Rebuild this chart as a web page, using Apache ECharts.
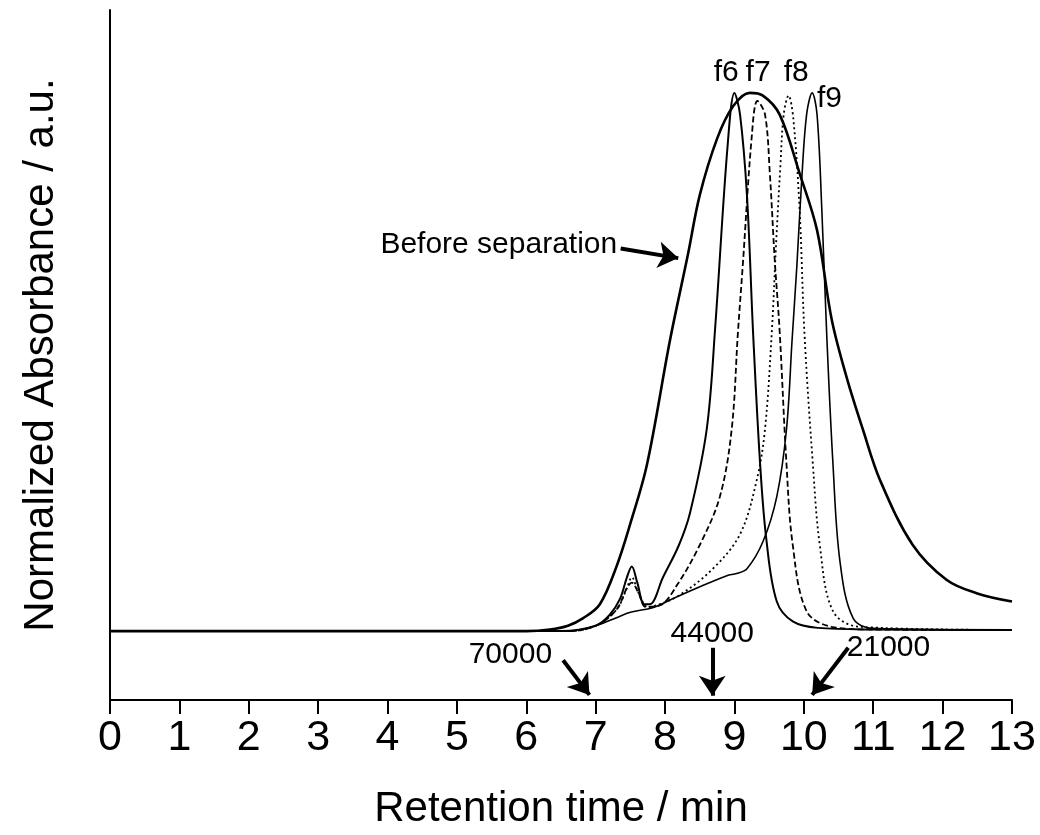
<!DOCTYPE html>
<html>
<head>
<meta charset="utf-8">
<script src="https://cdn.jsdelivr.net/npm/echarts@6/dist/echarts.min.js"></script>
<style>
html,body{margin:0;padding:0;background:#fff;}
#chart{width:1040px;height:835px;}
</style>
</head>
<body>
<div id="chart"></div>
<script>
// ---- data ----
const xTicks = [0,1,2,3,4,5,6,7,8,9,10,11,12,13];

const beforeT = [0, 5.5, 6.0, 6.34, 6.6, 6.82, 7.06, 7.3, 7.5, 7.74, 8.07, 8.33, 8.5, 8.75, 8.98, 9.22, 9.41, 9.65, 9.94, 10.19, 10.4, 10.62, 10.85, 11.1, 11.57, 12.06, 12.5, 13];
const beforeV = [0, 0, 0, 0.003, 0.01, 0.024, 0.05, 0.12, 0.2, 0.31, 0.54, 0.70, 0.81, 0.915, 0.975, 1.0, 0.995, 0.96, 0.85, 0.745, 0.58, 0.47, 0.375, 0.28, 0.16, 0.095, 0.07, 0.055];

const f6T = [0, 6.0, 6.5, 7.0, 7.2, 7.35, 7.45, 7.52, 7.6, 7.7, 7.78, 7.97, 8.2, 8.36, 8.6, 8.72, 8.9, 9.0, 9.08, 9.18, 9.27, 9.37, 9.46, 9.61, 9.84, 10.2, 11, 13];
const f6V = [0, 0, 0, 0.01, 0.03, 0.06, 0.1, 0.12, 0.09, 0.05, 0.05, 0.1, 0.16, 0.22, 0.375, 0.56, 0.9, 1.0, 0.96, 0.81, 0.55, 0.31, 0.17, 0.055, 0.018, 0.006, 0.003, 0.002];

const f7T = [0, 6.0, 6.6, 7.0, 7.3, 7.45, 7.52, 7.62, 7.72, 7.93, 8.17, 8.5, 8.79, 8.96, 9.05, 9.12, 9.25, 9.33, 9.44, 9.51, 9.58, 9.65, 9.75, 9.84, 10.04, 10.4, 11, 13];
const f7V = [0, 0, 0, 0.01, 0.04, 0.08, 0.09, 0.07, 0.045, 0.048, 0.085, 0.16, 0.25, 0.375, 0.555, 0.68, 0.92, 0.985, 0.96, 0.85, 0.69, 0.56, 0.31, 0.16, 0.037, 0.008, 0.003, 0.002];

const f8T = [0, 6.0, 6.6, 7.0, 7.3, 7.45, 7.52, 7.62, 7.75, 7.88, 8.21, 8.69, 9.08, 9.32, 9.44, 9.54, 9.6, 9.66, 9.71, 9.78, 9.85, 9.94, 10.01, 10.13, 10.23, 10.42, 10.8, 13];
const f8V = [0, 0, 0, 0.01, 0.04, 0.08, 0.1, 0.07, 0.045, 0.048, 0.067, 0.116, 0.18, 0.28, 0.375, 0.56, 0.72, 0.86, 0.96, 0.995, 0.95, 0.78, 0.55, 0.31, 0.16, 0.037, 0.008, 0.002];

const f9T = [0, 6.0, 6.6, 7.0, 7.3, 7.5, 7.78, 7.88, 8.11, 8.46, 8.89, 9.03, 9.18, 9.41, 9.61, 9.75, 9.83, 9.9, 9.97, 10.04, 10.12, 10.19, 10.26, 10.33, 10.42, 10.52, 10.71, 11.0, 13];
const f9V = [0, 0, 0, 0.01, 0.025, 0.035, 0.042, 0.046, 0.06, 0.08, 0.103, 0.107, 0.116, 0.166, 0.25, 0.375, 0.54, 0.68, 0.84, 0.96, 1.0, 0.96, 0.78, 0.55, 0.31, 0.13, 0.024, 0.005, 0.002];

// annotations: [text, t, value]
const peakLabels = [['f6', 8.88, 1.037], ['f7', 9.34, 1.037], ['f8', 9.89, 1.037], ['f9', 10.37, 0.99]];
const mwLabels = [['70000', 5.77, -0.043], ['44000', 8.68, -0.004], ['21000', 11.22, -0.030]];
// arrows: [startT, startV, endT, endV]
const mwArrows = [[6.53, -0.054, 6.91, -0.1185], [8.68, -0.031, 8.68, -0.12], [10.64, -0.031, 10.12, -0.1185]];
const beforeArrow = [7.36, 0.711, 8.19, 0.693];
const beforeLabel = ['Before separation', 7.31, 0.717];

// ---- chart ----
const FONT = "'Liberation Sans', Arial, sans-serif";
const zip = (t, v) => t.map((x, i) => [x, v[i]]);

const chart = echarts.init(document.getElementById('chart'));

function lineSeries(name, t, v, width, type) {
  return {
    name: name, type: 'line', data: zip(t, v), showSymbol: false, symbol: 'none',
    smooth: 0.35, silent: true, animation: false,
    lineStyle: { color: '#000', width: width, type: type }
  };
}

const before = lineSeries('Before separation', beforeT, beforeV, 2.6, 'solid');
const arrowData = mwArrows.map(a => [{ coord: [a[0], a[1]] }, { coord: [a[2], a[3]] }]);
arrowData.push([{ coord: [beforeArrow[0], beforeArrow[1]] }, { coord: [beforeArrow[2], beforeArrow[3]] }]);
before.markLine = {
  silent: true, animation: false, symbol: ['none', 'arrow'], symbolSize: [20, 20],
  label: { show: false },
  lineStyle: { color: '#000', width: 4, type: 'solid' },
  data: arrowData
};
const textPts = [];
peakLabels.forEach(p => textPts.push({ name: p[0], coord: [p[1], p[2]], fs: 30 }));
mwLabels.forEach(p => textPts.push({ name: p[0], coord: [p[1], p[2]], fs: 30 }));
before.markPoint = {
  silent: true, animation: false, symbol: 'circle', symbolSize: 0,
  data: textPts.map(p => ({
    name: p.name, coord: p.coord,
    label: { show: true, position: 'inside', formatter: p.name, color: '#000', fontSize: p.fs, fontFamily: FONT }
  })).concat([{
    name: beforeLabel[0], coord: [beforeLabel[1], beforeLabel[2]],
    label: { show: true, position: 'left', distance: 0, formatter: beforeLabel[0], color: '#000', fontSize: 30, fontFamily: FONT }
  }])
};

const option = {
  animation: false,
  backgroundColor: '#fff',
  grid: { left: 110, right: 28, top: 10, bottom: 133, containLabel: false },
  xAxis: {
    type: 'value', min: 0, max: 13, interval: 1,
    name: 'Retention time / min', nameLocation: 'middle', nameGap: 88,
    nameTextStyle: { color: '#000', fontSize: 42, fontFamily: FONT },
    axisLine: { show: true, onZero: false, lineStyle: { color: '#000', width: 2 } },
    axisTick: { show: true, inside: false, length: 14, lineStyle: { color: '#000', width: 2 } },
    axisLabel: { show: true, color: '#000', fontSize: 43, fontFamily: FONT, margin: 17,
      formatter: v => xTicks.indexOf(v) >= 0 ? String(v) : '' },
    splitLine: { show: false }
  },
  yAxis: {
    type: 'value', min: -0.128, max: 1.154,
    name: 'Normalized Absorbance / a.u.', nameLocation: 'middle', nameGap: 48,
    nameTextStyle: { color: '#000', fontSize: 42, fontFamily: FONT },
    axisLine: { show: true, onZero: false, lineStyle: { color: '#000', width: 2 } },
    axisTick: { show: false }, axisLabel: { show: false }, splitLine: { show: false }
  },
  series: [
    before,
    lineSeries('f6', f6T, f6V, 2.0, 'solid'),
    lineSeries('f7', f7T, f7V, 1.8, [6, 3]),
    lineSeries('f8', f8T, f8V, 1.8, [2, 3]),
    lineSeries('f9', f9T, f9V, 1.6, 'solid')
  ]
};
chart.setOption(option);
</script>
</body>
</html>
